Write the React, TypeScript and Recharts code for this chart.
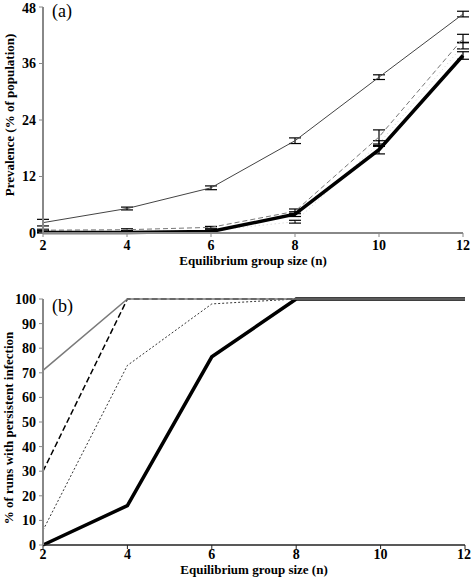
import React from 'react';
import { LineChart, Line, XAxis, YAxis, ErrorBar, Label } from 'recharts';

// Shared categories
const groupSizes = [2, 4, 6, 8, 10, 12];
const xTicks = [2, 4, 6, 8, 10, 12];

// Panel (a): prevalence (% of population)
const prevA = [2.2, 5.2, 9.6, 19.6, 33.1, 46.5];
const prevAErr = [0.7, 0.3, 0.4, 0.6, 0.5, 0.6];
const prevB = [0.6, 0.7, 1.2, 4.6, 20.4, 41.3];
const prevBErr = [0.2, 0.2, 0.2, 0.5, 1.5, 0.9];
const prevC = [0.3, 0.3, 0.5, 2.4, 19.0, 39.8];
const prevCErr = [0.2, 0.2, 0.2, 0.3, 0.6, 0.7];
const prevD = [0.1, 0.1, 0.3, 4.0, 17.7, 37.7];
const prevDErr = [0.1, 0.1, 0.1, 0.5, 0.9, 0.8];
const prevTicks = [0, 12, 24, 36, 48];

// Panel (b): % of runs with persistent infection
const persE = [71, 100, 100, 100, 100, 100];
const persF = [30, 100, 100, 100, 100, 100];
const persG = [6, 73, 98, 100, 100, 100];
const persH = [0, 16, 76.5, 100, 100, 100];
const persTicks = [0, 10, 20, 30, 40, 50, 60, 70, 80, 90, 100];

const xTitle = 'Equilibrium group size (n)';
const yTitleA = 'Prevalence (% of population)';
const yTitleB = '% of runs with persistent infection';

const topData = groupSizes.map((n, i) => ({
  n,
  a: prevA[i], aErr: prevAErr[i],
  b: prevB[i], bErr: prevBErr[i],
  c: prevC[i], cErr: prevCErr[i],
  d: prevD[i], dErr: prevDErr[i],
}));

const bottomData = groupSizes.map((n, i) => ({
  n, e: persE[i], f: persF[i], g: persG[i], h: persH[i],
}));

const FONT = 'Liberation Serif';
const tickStyle = { fill: '#000', fontSize: 14, fontWeight: 700, fontFamily: FONT };

const YTitle = (cx: number, cy: number, text: string) => () => (
  <text
    x={cx}
    y={cy}
    transform={`rotate(-90 ${cx} ${cy})`}
    textAnchor="middle"
    dominantBaseline="central"
    fontFamily={FONT}
    fontSize={13}
    fontWeight={700}
    fill="#000"
  >
    {text}
  </text>
);

const XTitle = (cx: number, cy: number, text: string) => () => (
  <text
    x={cx}
    y={cy}
    textAnchor="middle"
    dominantBaseline="central"
    fontFamily={FONT}
    fontSize={13}
    fontWeight={700}
    fill="#000"
  >
    {text}
  </text>
);

export default function App() {
  return (
    <div style={{ position: 'absolute', left: 0, top: 0, width: 471, height: 577, background: '#fff', fontFamily: FONT }}>
      <div style={{ position: 'absolute', left: 0, top: 0 }}>
        <LineChart width={471} height={270} data={topData} margin={{ top: 7, right: 8, bottom: 0, left: 0 }}>
          <XAxis
            dataKey="n"
            type="number"
            domain={[2, 12]}
            ticks={xTicks}
            height={37}
            tick={tickStyle}
            tickSize={4}
            tickMargin={3}
            axisLine={{ stroke: '#888', strokeWidth: 2 }}
            tickLine={{ stroke: '#888' }}
          >
            <Label content={XTitle(253, 260, xTitle)} />
          </XAxis>
          <YAxis
            type="number"
            domain={[0, 48]}
            ticks={prevTicks}
            width={43}
            tick={tickStyle}
            tickSize={4}
            tickMargin={3}
            axisLine={{ stroke: '#888', strokeWidth: 2 }}
            tickLine={{ stroke: '#888' }}
          >
            <Label content={YTitle(9, 115, yTitleA)} />
          </YAxis>
          <Line dataKey="a" stroke="#444" strokeWidth={1} dot={false} isAnimationActive={false}>
            <ErrorBar dataKey="aErr" direction="y" width={6} stroke="#000" strokeWidth={1.2} />
          </Line>
          <Line dataKey="c" stroke="#c4c4c4" strokeWidth={0.8} strokeDasharray="1 3" dot={false} isAnimationActive={false}>
            <ErrorBar dataKey="cErr" direction="y" width={6} stroke="#000" strokeWidth={1.2} />
          </Line>
          <Line dataKey="b" stroke="#777" strokeWidth={1} strokeDasharray="5 3" dot={false} isAnimationActive={false}>
            <ErrorBar dataKey="bErr" direction="y" width={6} stroke="#000" strokeWidth={1.2} />
          </Line>
          <Line dataKey="d" stroke="#000" strokeWidth={3.5} dot={false} isAnimationActive={false}>
            <ErrorBar dataKey="dErr" direction="y" width={6} stroke="#000" strokeWidth={1.2} />
          </Line>
        </LineChart>
        <div style={{ position: 'absolute', left: 52, top: 0, fontFamily: FONT, fontSize: 18, lineHeight: '22px', color: '#000' }}>(a)</div>
      </div>

      <div style={{ position: 'absolute', left: 0, top: 280 }}>
        <LineChart width={471} height={297} data={bottomData} margin={{ top: 19, right: 6, bottom: 0, left: 0 }}>
          <XAxis
            dataKey="n"
            type="number"
            domain={[2, 12]}
            ticks={xTicks}
            height={32}
            tick={tickStyle}
            tickSize={4}
            tickMargin={0}
            axisLine={{ stroke: '#222', strokeWidth: 1.5 }}
            tickLine={{ stroke: '#222' }}
          >
            <Label content={XTitle(254, 289, xTitle)} />
          </XAxis>
          <YAxis
            type="number"
            domain={[0, 100]}
            ticks={persTicks}
            width={43}
            tick={tickStyle}
            tickSize={4}
            tickMargin={3}
            axisLine={{ stroke: '#888', strokeWidth: 2 }}
            tickLine={{ stroke: '#888' }}
          >
            <Label content={YTitle(8, 148, yTitleB)} />
          </YAxis>
          <Line dataKey="g" stroke="#333" strokeWidth={1} strokeDasharray="2 2" dot={false} isAnimationActive={false} />
          <Line dataKey="f" stroke="#000" strokeWidth={1.5} strokeDasharray="6 3" dot={false} isAnimationActive={false} />
          <Line dataKey="h" stroke="#000" strokeWidth={3.5} dot={false} isAnimationActive={false} />
          <Line dataKey="e" stroke="#7a7a7a" strokeWidth={1.5} dot={false} isAnimationActive={false} />
        </LineChart>
        <div style={{ position: 'absolute', left: 52, top: 15, fontFamily: FONT, fontSize: 18, lineHeight: '22px', color: '#000' }}>(b)</div>
      </div>
    </div>
  );
}
